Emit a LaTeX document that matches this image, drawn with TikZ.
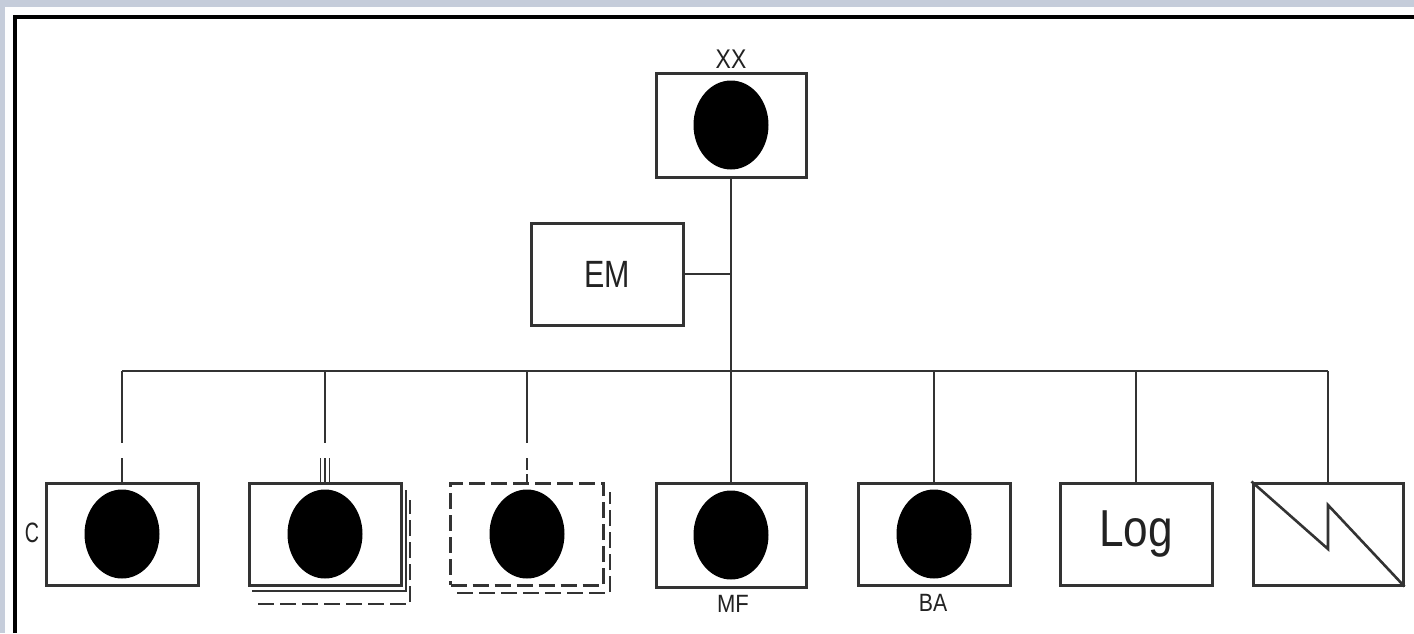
\documentclass[tikz,border=0pt]{standalone}
\usepackage{fontspec}
\setmainfont{Liberation Sans}
\usetikzlibrary{shapes.geometric}
\definecolor{ln}{HTML}{333333}
\definecolor{tx}{HTML}{222222}
\definecolor{bgblue}{HTML}{C5CCDA}
\tikzset{
  unit/.style={draw=ln, line width=3pt, fill=white, minimum width=152pt, minimum height=102pt, inner sep=0pt},
  dashedunit/.style={unit, dashed, dash pattern=on 16pt off 6pt},
  dot/.style={ellipse, fill=black, minimum width=75pt, minimum height=89pt, inner sep=0pt},
  conn/.style={draw=ln, line width=2.8pt},
  lbl/.style={text=tx, inner sep=0pt},
}
\newcommand{\lbltext}[3]{\fontsize{#1}{#1}\selectfont\scalebox{#2}[1]{#3}}
\begin{document}
\begin{tikzpicture}[x=1pt, y=-1pt]
\useasboundingbox (0,0) rectangle (1414,633);
% outer screenshot background
\fill[bgblue] (0,0) rectangle (1414,633);
\fill[white!97!bgblue] (5,7) rectangle (1414,633);
\fill[white] (16,18) rectangle (1414,633);
\draw[black, line width=4pt] (15,633) -- (15,17) -- (1414,17);

% top unit
\node[unit, minimum width=150pt, minimum height=104pt] (top) at (731,125) {};
\node[dot] (topdot) at (top.center) {};
\node[lbl] (xx) at (731,59) {\lbltext{27}{0.85}{XX}};

% EM
\node[unit] (em) at (607,274) {};
\node[lbl] (emt) at (em.center) {\lbltext{38}{0.8}{EM}};

% bottom row
\node[unit] (c) at (122,534) {};
\node[dot] (cdot) at (c.center) {};
\node[lbl] (cl) at (32,533) {\lbltext{28}{0.7}{C}};

% stacked unit
\draw[ln, line width=2.6pt, dashed, dash pattern=on 16pt off 6pt] (258,604) -- (410,604) -- (410,500);
\draw[ln, line width=2.6pt] (252,591) -- (406,591) -- (406,490);
\node[unit] (r) at (325,534) {};
\node[dot] (rdot) at (r.center) {};

% dashed unit
\draw[ln, line width=2.6pt, dashed, dash pattern=on 16pt off 6pt] (457,593) -- (610,593) -- (610,492);
\node[dashedunit, minimum width=153pt] (d) at (527,534) {};
\node[dot] (ddot) at (d.center) {};

\node[unit, minimum width=150pt, minimum height=104pt] (mf) at (731,535) {};
\node[dot] (mfdot) at (mf.center) {};
\node[lbl] (mfl) at (733,604) {\lbltext{25}{0.88}{MF}};

\node[unit] (ba) at (934,534) {};
\node[dot] (badot) at (ba.center) {};
\node[lbl] (bal) at (933,603) {\lbltext{25}{0.85}{BA}};

\node[unit] (log) at (1136,534) {};
\node[lbl] (logt) at (log.center) {\lbltext{52}{0.85}{Log}};

\node[unit, minimum width=150pt] (z) at (1328,534) {};
\coordinate (zlow) at (1328,549);
\coordinate (zhigh) at (1328,505);
\draw[ln, line width=2.6pt] (z.north west) -- (zlow) -- (zhigh) -- (z.south east);

% connectors
\coordinate (bus) at (731,371);
\draw[conn] (top.south) -- (mf.north);
\draw[conn] (em.east) -- (em.east -| top.south);
\draw[conn] (c.north |- bus) -- (z.north |- bus);
\draw[conn] (ba.north |- bus) -- (ba.north);
\draw[conn] (log.north |- bus) -- (log.north);
\draw[conn] (z.north |- bus) -- (z.north);

% drops with echelon marks
\coordinate (cgap) at (122,443);
\draw[conn] (c.north |- bus) -- (cgap);
\draw[conn] (122,458) -- (c.north);

\coordinate (rgap) at (325,443);
\draw[conn] (r.north |- bus) -- (rgap);
\draw[ln, line width=1.6pt] (320.5,458) -- (320.5,483) (325,458) -- (325,483) (329.5,458) -- (329.5,483);

\coordinate (dgap) at (527,443);
\draw[conn] (d.north |- bus) -- (dgap);
\draw[conn] (527,458) -- (527,470) (527,474) -- (d.north);
\end{tikzpicture}
\end{document}
